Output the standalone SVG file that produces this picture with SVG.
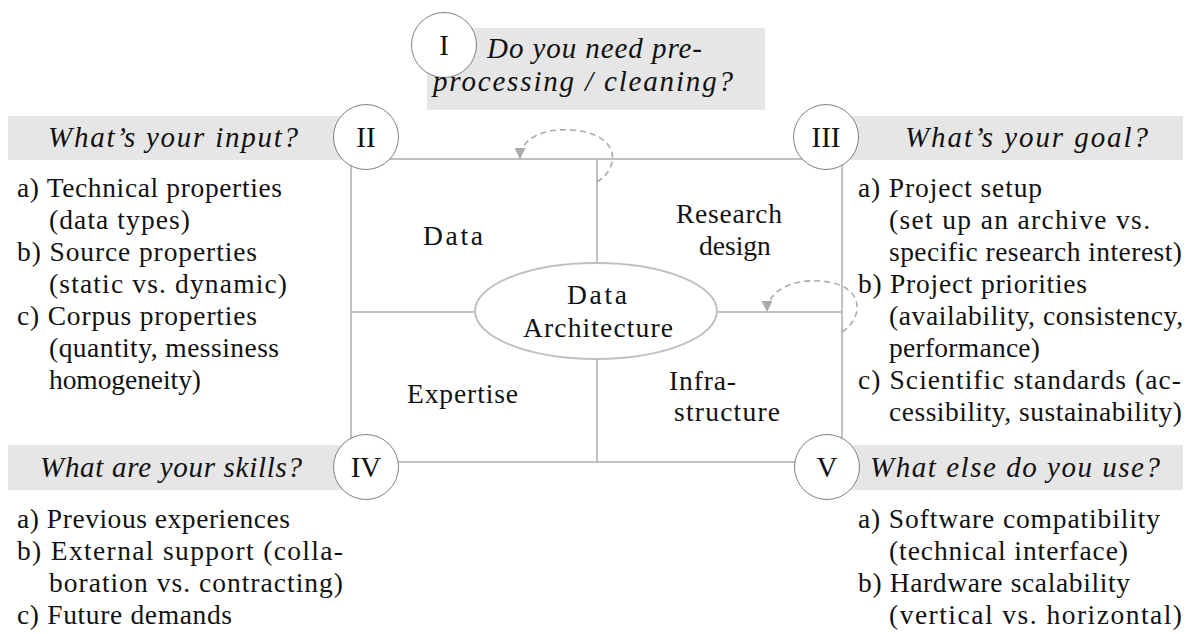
<svg xmlns="http://www.w3.org/2000/svg" width="1191" height="634" viewBox="0 0 1191 634">
  <style>
    .bar { fill: #e6e6e6; }
    .frame { stroke: #c0c0c0; stroke-width: 2; fill: none; }
    .hub { stroke: #c0c0c0; stroke-width: 2; fill: #ffffff; }
    .badge { stroke: #808080; stroke-width: 1; fill: #ffffff; }
    .loop { stroke: #aaaaaa; stroke-width: 1.6; fill: none; stroke-dasharray: 6 4; }
    text { font-family: "Liberation Serif", "Times New Roman", serif; font-size: 27.5px; fill: #111111; }
    .q { font-style: italic; font-size: 29px; }
    .num { font-size: 29px; text-anchor: middle; }
  </style>
  <defs>
    <marker id="tip" viewBox="0 0 10 10" refX="10" refY="5" markerUnits="userSpaceOnUse" markerWidth="11" markerHeight="11" orient="auto">
      <path d="M0,0 L10,5 L0,10 z" fill="#aaaaaa"/>
    </marker>
  </defs>

  <rect width="1191" height="634" fill="#ffffff"/>

  <!-- header bars -->
  <rect class="bar" x="427" y="28" width="338" height="82"/>
  <rect class="bar" x="8" y="116" width="358" height="44"/>
  <rect class="bar" x="826" y="116" width="357" height="44"/>
  <rect class="bar" x="8" y="445" width="358" height="45"/>
  <rect class="bar" x="827" y="445" width="356" height="45"/>

  <!-- connectors: frame, dividers, loops -->
  <g id="connectors">
    <rect class="frame" x="351" y="159" width="491" height="303"/>
    <line class="frame" x1="597" y1="159" x2="597" y2="264"/>
    <line class="frame" x1="597" y1="358" x2="597" y2="462"/>
    <line class="frame" x1="351" y1="312" x2="476" y2="312"/>
    <line class="frame" x1="716" y1="312" x2="842" y2="312"/>
    <path class="loop" d="M597,182 C620,168 622,134 572,130 C540,128 520,140 520,159" marker-end="url(#tip)"/>
    <path class="loop" d="M842,332 C864,318 866,284 820,281 C790,279 767,292 767,312" marker-end="url(#tip)"/>
  </g>

  <!-- central node -->
  <g id="hub">
    <ellipse class="hub" cx="596" cy="311" rx="121" ry="48"/>
    <text x="567" y="304" textLength="60">Data</text>
    <text x="523" y="337" textLength="150">Architecture</text>
  </g>

  <!-- quadrant labels -->
  <g id="q-data"><text x="423" y="245" textLength="60">Data</text></g>
  <g id="q-research">
    <text x="676" y="223" textLength="106">Research</text>
    <text x="699" y="255">design</text>
  </g>
  <g id="q-expertise"><text x="407" y="403" textLength="111">Expertise</text></g>
  <g id="q-infra">
    <text x="669" y="390" textLength="67">Infra-</text>
    <text x="674" y="421" textLength="106">structure</text>
  </g>

  <!-- I: preprocessing -->
  <g id="node-1">
    <circle class="badge" cx="444" cy="45" r="32.5"/>
    <text class="num" x="444" y="55">I</text>
    <text class="q" x="487" y="58" textLength="215">Do you need pre-</text>
    <text class="q" x="433" y="91" textLength="300">processing / cleaning?</text>
  </g>

  <!-- II: input -->
  <g id="node-2">
    <circle class="badge" cx="366" cy="137" r="32.5"/>
    <text class="num" x="366" y="147">II</text>
    <text class="q" x="48" y="147" textLength="250">What’s your input?</text>
    <text x="17" y="197" textLength="265">a) Technical properties</text>
    <text x="49" y="229" textLength="141">(data types)</text>
    <text x="17" y="261" textLength="240">b) Source properties</text>
    <text x="49" y="293" textLength="238">(static vs. dynamic)</text>
    <text x="17" y="325" textLength="240">c) Corpus properties</text>
    <text x="49" y="357" textLength="230">(quantity, messiness</text>
    <text x="49" y="389" textLength="152">homogeneity)</text>
  </g>

  <!-- III: goal -->
  <g id="node-3">
    <circle class="badge" cx="826" cy="137" r="32.5"/>
    <text class="num" x="826" y="147">III</text>
    <text class="q" x="905" y="147" textLength="243">What’s your goal?</text>
    <text x="858" y="197" textLength="184">a) Project setup</text>
    <text x="889" y="229" textLength="261">(set up an archive vs.</text>
    <text x="889" y="261" textLength="293">specific research interest)</text>
    <text x="858" y="293" textLength="229">b) Project priorities</text>
    <text x="889" y="325" textLength="294">(availability, consistency,</text>
    <text x="889" y="357" textLength="151">performance)</text>
    <text x="858" y="389" textLength="323">c) Scientific standards (ac-</text>
    <text x="889" y="421" textLength="293">cessibility, sustainability)</text>
  </g>

  <!-- IV: skills -->
  <g id="node-4">
    <circle class="badge" cx="366" cy="467" r="32.5"/>
    <text class="num" x="366" y="477">IV</text>
    <text class="q" x="40" y="477" textLength="262">What are your skills?</text>
    <text x="17" y="528" textLength="273">a) Previous experiences</text>
    <text x="17" y="560" textLength="326">b) External support (colla-</text>
    <text x="49" y="592" textLength="294">boration vs. contracting)</text>
    <text x="17" y="624" textLength="215">c) Future demands</text>
  </g>

  <!-- V: other tools -->
  <g id="node-5">
    <circle class="badge" cx="827" cy="467" r="32.5"/>
    <text class="num" x="827" y="477">V</text>
    <text class="q" x="870" y="477" textLength="290">What else do you use?</text>
    <text x="858" y="528" textLength="302">a) Software compatibility</text>
    <text x="889" y="560" textLength="239">(technical interface)</text>
    <text x="858" y="592" textLength="272">b) Hardware scalability</text>
    <text x="889" y="624" textLength="293">(vertical vs. horizontal)</text>
  </g>
</svg>
